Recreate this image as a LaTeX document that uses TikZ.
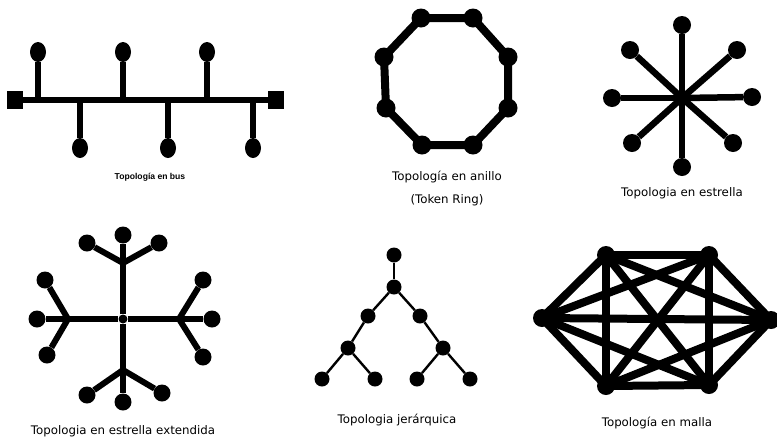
\documentclass[tikz,border=0pt]{standalone}
\usepackage{fontspec}
\setmainfont{DejaVu Sans}
\newfontfamily\busfont{Liberation Sans}
\usetikzlibrary{shapes.geometric}
\begin{document}
\begin{tikzpicture}[x=1pt,y=-1pt,
  dot/.style={circle,fill=black,inner sep=0pt,minimum size=#1},
  dot/.default=18pt,
  oval/.style={ellipse,fill=black,inner sep=0pt,minimum width=16pt,minimum height=20pt},
  term/.style={rectangle,fill=black,inner sep=0pt,minimum width=16pt,minimum height=18pt},
  thick6/.style={line width=6pt},
  thick8/.style={line width=8pt},
  thin/.style={line width=2.4pt},
  lbl/.style={font=\fontsize{11.8}{14}\selectfont,align=center,inner sep=0pt},
  lblsmall/.style={font=\busfont\bfseries\fontsize{8.6}{10}\selectfont,inner sep=0pt}
]
\useasboundingbox (0,0) rectangle (777,440);
\fill[white] (0,0) rectangle (777,440);

% ---------- Bus ----------
\node[term] (bl) at (15,100) {};
\node[term] (br) at (276,100) {};
\draw[thick6] (bl) -- (br);
\foreach \i/\x in {1/38,2/123,3/207}{
  \node[oval] (bt\i) at (\x,52) {};
  \coordinate (bj\i) at (\x,100);
  \draw[thick6] (bt\i) -- (bj\i);
}
\foreach \i/\x in {1/80,2/168,3/253}{
  \node[oval] (bb\i) at (\x,148) {};
  \coordinate (bk\i) at (\x,100);
  \draw[thick6] (bb\i) -- (bk\i);
}
\node[lblsmall] (lbus) at (150,177) {Topología en bus};

% ---------- Ring ----------
\node[dot=19pt] (r1) at (421,18) {};
\node[dot=19pt] (r2) at (473,18) {};
\node[dot=19pt] (r3) at (508,57) {};
\node[dot=19pt] (r4) at (508,108) {};
\node[dot=19pt] (r5) at (473,145) {};
\node[dot=19pt] (r6) at (422,145) {};
\node[dot=19pt] (r7) at (386,108) {};
\node[dot=19pt] (r8) at (384,57) {};
\draw[thick8] (r1.center) -- (r2.center) -- (r3.center) -- (r4.center) -- (r5.center)
  -- (r6.center) -- (r7.center) -- (r8.center) -- cycle;
\node[lbl] (lring1) at (447,177) {Topología en anillo};
\node[lbl] (lring2) at (447,200) {(Token Ring)};

% ---------- Star ----------
\coordinate (sc) at (682,98);
\node[dot] (s1) at (682,25) {};
\node[dot] (s2) at (737,50) {};
\node[dot] (s3) at (752,97) {};
\node[dot] (s4) at (733,143) {};
\node[dot] (s5) at (682,167) {};
\node[dot] (s6) at (632,143) {};
\node[dot] (s7) at (612,98) {};
\node[dot] (s8) at (630,50) {};
\foreach \i in {1,...,8}{\draw[line width=6.5pt] (sc) -- (s\i);}
\node[lbl] (lstar) at (682,193) {Topologia en estrella};

% ---------- Extended star ----------
\node[dot=9pt] (ec) at (123,319) {};
\coordinate (eht) at (123,263);
\coordinate (ehb) at (123,370);
\coordinate (ehl) at (68,319);
\coordinate (ehr) at (179,319);
\foreach \h in {eht,ehb,ehl,ehr}{\draw[thick6] (ec) -- (\h);}
\node[dot=17pt] (et1) at (123,235) {};
\node[dot=17pt] (et2) at (87,243) {};
\node[dot=17pt] (et3) at (159,243) {};
\node[dot=17pt] (eb1) at (87,395) {};
\node[dot=17pt] (eb2) at (123,402) {};
\node[dot=17pt] (eb3) at (162,393) {};
\node[dot=17pt] (el1) at (45,280) {};
\node[dot=17pt] (el2) at (37,319) {};
\node[dot=17pt] (el3) at (47,355) {};
\node[dot=17pt] (er1) at (203,280) {};
\node[dot=17pt] (er2) at (212,319) {};
\node[dot=17pt] (er3) at (203,357) {};
\foreach \n in {et1,et2,et3}{\draw[thick6] (eht) -- (\n);}
\foreach \n in {eb1,eb2,eb3}{\draw[thick6] (ehb) -- (\n);}
\foreach \n in {el1,el2,el3}{\draw[thick6] (ehl) -- (\n);}
\foreach \n in {er1,er2,er3}{\draw[thick6] (ehr) -- (\n);}
\node[lbl] (lext) at (123,431) {Topologia en estrella extendida};

% ---------- Hierarchical ----------
\node[dot=15pt] (h1) at (394,255) {};
\node[dot=15pt] (h2) at (394,287) {};
\node[dot=15pt] (h3) at (368,316) {};
\node[dot=15pt] (h4) at (420,316) {};
\node[dot=15pt] (h5) at (348,348) {};
\node[dot=15pt] (h6) at (443,348) {};
\node[dot=15pt] (h7) at (322,379) {};
\node[dot=15pt] (h8) at (375,379) {};
\node[dot=15pt] (h9) at (417,379) {};
\node[dot=15pt] (h10) at (470,379) {};
\draw[thin] (h1) -- (h2);
\draw[thin] (h2) -- (h3);
\draw[thin] (h2) -- (h4);
\draw[thin] (h3) -- (h5);
\draw[thin] (h4) -- (h6);
\draw[thin] (h5) -- (h7);
\draw[thin] (h5) -- (h8);
\draw[thin] (h6) -- (h9);
\draw[thin] (h6) -- (h10);
\node[lbl] (lhier) at (397,420) {Topologia jerárquica};

% ---------- Mesh ----------
\node[dot] (m1) at (606,255) {};
\node[dot] (m2) at (709,255) {};
\node[dot] (m3) at (771,320) {};
\node[dot] (m4) at (709,385) {};
\node[dot] (m5) at (606,386) {};
\node[dot] (m6) at (542,318) {};
\foreach \a/\b in {1/2,1/3,1/4,1/5,1/6,2/3,2/4,2/5,2/6,3/4,3/5,3/6,4/5,4/6,5/6}{
  \draw[thick8] (m\a.center) -- (m\b.center);
}
\node[lbl] (lmesh) at (657,423) {Topología en malla};
\end{tikzpicture}
\end{document}
